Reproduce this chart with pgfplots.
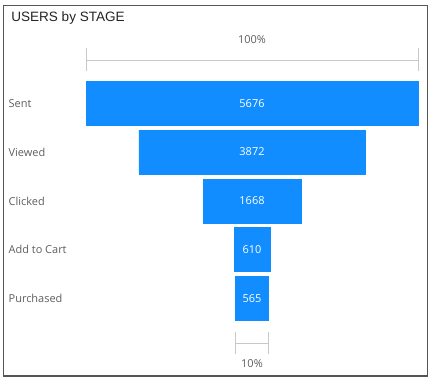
\documentclass[border=0pt]{standalone}
\usepackage{fontspec}
\setmainfont{Open Sans}
\newfontfamily\titlefont{Liberation Sans}
\usepackage{pgfplots}
\pgfplotsset{compat=1.18}
\usepackage{pgfplotstable}
\definecolor{pbiblue}{HTML}{118DFF}
\definecolor{labgray}{HTML}{605E5C}
\definecolor{titlegray}{HTML}{252423}
\definecolor{brk}{HTML}{C8C8C8}
\definecolor{frame}{HTML}{555555}
% y = bar centre (pixels from top), v = users, h = half of v
\pgfplotstableread{
y v h
103.5 5676 2838
152 3872 1936
201 1668 834
249.5 610 305
298.5 565 282.5
}\funnel
\begin{document}
\begin{tikzpicture}
\begin{axis}[
  scale only axis, width=431bp, height=380bp,
  xmin=-4308.3, xmax=3060.3,
  ymin=0, ymax=380, y dir=reverse,
  hide axis, clip=false,
]
% full picture extent
\path (rel axis cs:0,0) rectangle (rel axis cs:1,1);
% frame and title
\draw[frame, line width=1.1pt] (axis cs:-4250,5.5) rectangle (axis cs:2993,376);
\node[anchor=west, text=titlegray, font=\titlefont\fontsize{13.6}{15}\selectfont] at (axis cs:-4175,17.5) {USERS by STAGE};
% funnel bars (two halves around the centre)
\addplot[xbar, bar width=44, bar shift=0pt, fill=pbiblue, draw=pbiblue, line width=0.3pt]
  table[x=h, y=y] {\funnel};
\addplot[xbar, bar width=44, bar shift=0pt, fill=pbiblue, draw=pbiblue, line width=0.3pt]
  table[x expr=-\thisrow{h}, y=y] {\funnel};
% value labels
\addplot[draw=none, mark=none, nodes near coords, point meta=explicit symbolic,
  nodes near coords align={center},
  every node near coord/.append style={text=white, anchor=center,
    font=\fontsize{11}{13}\selectfont}]
  table[x expr=0, y=y, meta=v] {\funnel};
% category labels
\foreach \yy/\lab in {103.5/Sent, 152/Viewed, 201/Clicked, 249.5/Add to Cart, 298.5/Purchased}{
  \edef\tmp{\noexpand\node[anchor=west, text=labgray, font=\noexpand\fontsize{11}{13}\noexpand\selectfont, inner xsep=0pt] at (axis cs:-4163,\yy) {\lab};}
  \tmp
}
% top bracket (100%)
\addplot[brk, line width=1pt] coordinates {(-2838,60) (2838,60)};
\addplot[brk, line width=1pt] coordinates {(-2838,48) (-2838,71)};
\addplot[brk, line width=1pt] coordinates {(2838,48) (2838,71)};
\node[text=labgray, font=\fontsize{11}{13}\selectfont] at (axis cs:0,40) {100\%};
% bottom bracket (10%)
\addplot[brk, line width=1pt] coordinates {(-282.5,343) (282.5,343)};
\addplot[brk, line width=1pt] coordinates {(-282.5,332) (-282.5,354)};
\addplot[brk, line width=1pt] coordinates {(282.5,332) (282.5,354)};
\node[text=labgray, font=\fontsize{11}{13}\selectfont] at (axis cs:0,363.5) {10\%};
\end{axis}
\end{tikzpicture}
\end{document}
